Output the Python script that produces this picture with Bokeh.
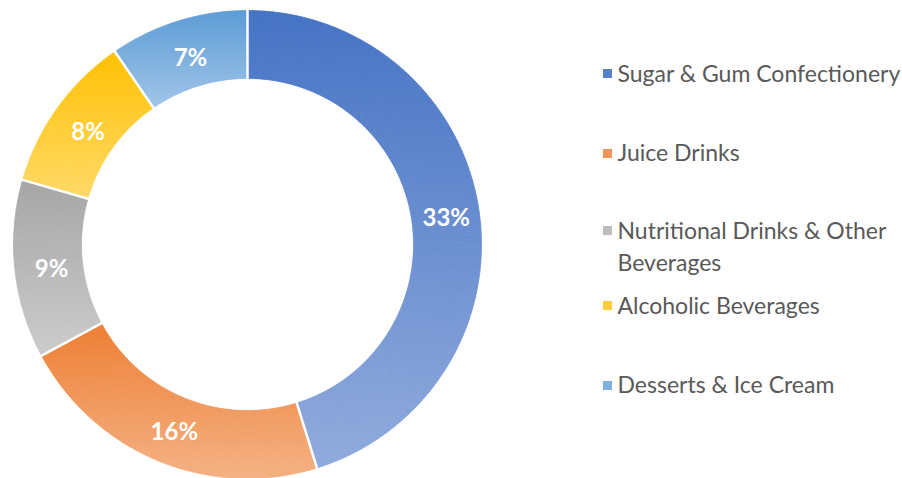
import math
from bokeh.plotting import figure
from bokeh.models import Range1d
from bokeh.core.properties import value
from bokeh.embed import file_html
from bokeh.resources import INLINE

# ---- data ----
categories = ["Sugar & Gum Confectionery", "Juice Drinks",
              "Nutritional Drinks & Other Beverages", "Alcoholic Beverages",
              "Desserts & Ice Cream"]
shares = [33, 16, 9, 8, 7]
share_labels = ["33%", "16%", "9%", "8%", "7%"]
legend_lines = [["Sugar & Gum Confectionery"], ["Juice Drinks"],
                ["Nutritional Drinks & Other", "Beverages"],
                ["Alcoholic Beverages"], ["Desserts & Ice Cream"]]

# ---- style ----
grad_top = ["#4472C4", "#ED7D31", "#A5A5A5", "#FFC000", "#5B9BD5"]
grad_bot = ["#8FAADC", "#F4B183", "#CBCBCB", "#FFD966", "#A0C4E8"]
legend_sw = ["#5580CC", "#F0955A", "#BDBDBD", "#FFCC40", "#7EB0E0"]

W, H = 902, 478
CX, CY = 247, H - 244          # centre (data coords, y up; data y = 478 - screen y)
R_OUT, R_IN = 234, 166
R_LAB = 199

p = figure(width=W, height=H, output_backend="svg", toolbar_location=None,
           x_range=Range1d(0, W), y_range=Range1d(0, H), min_border=0)
p.axis.visible = False
p.grid.visible = False
p.outline_line_color = None
p.background_fill_color = "white"
p.border_fill_color = "white"


def hex2rgb(h):
    h = h.lstrip("#")
    return [int(h[i:i + 2], 16) for i in (0, 2, 4)]


def mix(a, b, t):
    ca, cb = hex2rgb(a), hex2rgb(b)
    return "#%02x%02x%02x" % tuple(int(round(ca[i] + (cb[i] - ca[i]) * t)) for i in range(3))


total = sum(shares)
cum = 0
xs_all, ys_all, cols_all = [], [], []
bounds = []
lab_x, lab_y = [], []
N_RAD = 12
for i, v in enumerate(shares):
    a0 = math.pi / 2 - 2 * math.pi * cum / total
    a1 = math.pi / 2 - 2 * math.pi * (cum + v) / total
    bounds.append(a0)
    am = (a0 + a1) / 2
    lab_x.append(CX + R_LAB * math.cos(am) + 2)
    lab_y.append(CY + R_LAB * math.sin(am) - 2)
    # vertical extent of this slice (for its own top->bottom gradient)
    samp = [a0 + (a1 - a0) * k / 400 for k in range(401)]
    ys_s = [CY + r * math.sin(a) for a in samp for r in (R_IN, R_OUT)]
    ymin, ymax = min(ys_s), max(ys_s)
    n_ang = max(2, int(abs(a1 - a0) * 180 / math.pi * 1.5))
    for k in range(n_ang):
        b0 = a0 + (a1 - a0) * k / n_ang
        b1 = a0 + (a1 - a0) * (k + 1) / n_ang
        for j in range(N_RAD):
            r0 = R_IN + (R_OUT - R_IN) * j / N_RAD
            r1 = R_IN + (R_OUT - R_IN) * (j + 1) / N_RAD
            px = [CX + r0 * math.cos(b0), CX + r1 * math.cos(b0),
                  CX + r1 * math.cos(b1), CX + r0 * math.cos(b1)]
            py = [CY + r0 * math.sin(b0), CY + r1 * math.sin(b0),
                  CY + r1 * math.sin(b1), CY + r0 * math.sin(b1)]
            yc = sum(py) / 4
            t = (ymax - yc) / (ymax - ymin)
            xs_all.append(px)
            ys_all.append(py)
            cols_all.append(mix(grad_top[i], grad_bot[i], t))
    cum += v

p.patches(xs=xs_all, ys=ys_all, fill_color=cols_all, line_color=cols_all, line_width=0.7)

# white separators
p.segment(x0=[CX + (R_IN - 2) * math.cos(a) for a in bounds],
          y0=[CY + (R_IN - 2) * math.sin(a) for a in bounds],
          x1=[CX + (R_OUT + 2) * math.cos(a) for a in bounds],
          y1=[CY + (R_OUT + 2) * math.sin(a) for a in bounds],
          line_color="white", line_width=2.5)

# slice labels
p.text(x=lab_x, y=lab_y, text=share_labels, text_color="white",
       text_font=value("Lato"), text_font_style="bold", text_font_size="24px",
       text_align="center", text_baseline="middle")

# legend
sq_row_y = [H - 73, H - 153, H - 230, H - 305, H - 385]
txt_row_y = [H - 72, H - 151, H - 229, H - 304, H - 383]
LINE_H = 32
sq_x, sq_y, tx, ty, tt = [], [], [], [], []
for i, lines in enumerate(legend_lines):
    sq_x.append(607)
    sq_y.append(sq_row_y[i])
    for j, ln in enumerate(lines):
        tx.append(617)
        ty.append(txt_row_y[i] - j * LINE_H)
        tt.append(ln)
p.scatter(x=sq_x, y=sq_y, marker="square", size=9, fill_color=legend_sw, line_color=None)
p.text(x=tx, y=ty, text=tt, text_color="#595959", text_font=value("Lato"),
       text_font_size="23px", text_align="left", text_baseline="middle")

open("out.html", "w").write(file_html(p, INLINE))
